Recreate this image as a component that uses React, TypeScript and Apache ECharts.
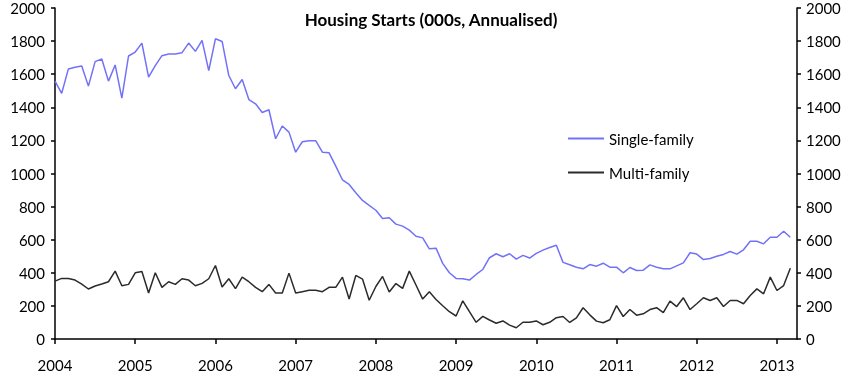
import React, { useEffect, useRef } from "react";
import * as echarts from "echarts";

// Monthly data, Jan 2004 .. Mar 2013 (000s, annualised)
const startYear = 2004;
const yearLabels = [2004, 2005, 2006, 2007, 2008, 2009, 2010, 2011, 2012, 2013];

const singleFamily = [
  1558, 1484, 1632, 1642, 1650, 1528, 1676, 1692, 1558, 1656, 1456, 1710,
  1734, 1788, 1582, 1652, 1712, 1722, 1722, 1730, 1788, 1738, 1804, 1622,
  1814, 1798, 1592, 1512, 1568, 1447, 1421, 1369, 1385, 1210, 1287, 1250,
  1129, 1192, 1198, 1198, 1129, 1125, 1045, 962, 934, 884, 837, 807,
  778, 728, 733, 694, 682, 658, 621, 611, 545, 549, 457, 400,
  366, 364, 356, 390, 420, 491, 515, 497, 515, 483, 505, 489,
  517, 537, 553, 566, 463, 449, 434, 424, 450, 440, 458, 434,
  434, 400, 432, 414, 416, 448, 434, 424, 424, 442, 460, 521,
  513, 480, 486, 500, 511, 529, 513, 539, 591, 591, 575, 615,
  615, 651, 615,
];

const multiFamily = [
  350, 366, 366, 356, 332, 302, 320, 332, 346, 410, 322, 330,
  400, 408, 278, 400, 312, 346, 330, 364, 356, 322, 336, 364,
  444, 314, 364, 304, 374, 346, 312, 286, 330, 278, 278, 398,
  278, 286, 294, 294, 286, 312, 312, 374, 242, 384, 362, 234,
  317, 378, 284, 335, 306, 410, 326, 241, 286, 239, 201, 165,
  139, 231, 165, 101, 137, 115, 95, 109, 84, 68, 101, 101,
  109, 86, 101, 129, 136, 100, 128, 189, 146, 108, 98, 116,
  202, 136, 178, 144, 152, 178, 189, 160, 229, 196, 249, 178,
  213, 249, 233, 249, 196, 233, 233, 213, 263, 303, 273, 374,
  293, 323, 428,
];

const FONT = "Lato";

export default function App() {
  const ref = useRef<HTMLDivElement>(null);

  useEffect(() => {
    const chart = echarts.init(ref.current!, null, { renderer: "svg" });
    const yAxisCommon = {
      type: "value",
      min: 0,
      max: 2000,
      interval: 200,
      splitLine: { show: false },
      axisLine: { show: true, lineStyle: { color: "#000", width: 1.5 } },
      axisTick: { show: true, inside: false, length: 4, lineStyle: { color: "#000", width: 1.5 } },
    };
    chart.setOption({
      animation: false,
      textStyle: { fontFamily: FONT },
      title: {
        text: "Housing Starts (000s, Annualised)",
        left: 426,
        textAlign: "center",
        top: 6,
        textStyle: { fontFamily: FONT, fontWeight: "bold", fontSize: 17, color: "#000" },
      },
      legend: {
        orient: "vertical",
        left: 563,
        top: 126,
        itemWidth: 36,
        itemHeight: 2,
        itemGap: 19,
        icon: "rect",
        textStyle: { fontFamily: FONT, fontSize: 15, color: "#000" },
        data: ["Single-family", "Multi-family"],
      },
      grid: { left: 55, right: 57, top: 8, bottom: 43, containLabel: false },
      xAxis: {
        type: "value",
        min: 0,
        max: 111,
        interval: 12,
        splitLine: { show: false },
        axisLine: { show: true, onZero: false, lineStyle: { color: "#000", width: 1.5 } },
        axisTick: { show: true, length: 5, lineStyle: { color: "#000", width: 1.5 } },
        axisLabel: {
          margin: 18,
          fontSize: 15,
          color: "#000",
          fontFamily: FONT,
          showMaxLabel: false,
          formatter: (v: number) => {
            const y = startYear + Math.round(v / 12);
            return yearLabels.includes(y) ? String(y) : "";
          },
        },
      },
      yAxis: [
        {
          ...yAxisCommon,
          position: "left",
          axisLabel: { margin: 10, fontSize: 15, color: "#000", fontFamily: FONT, formatter: (v: number) => String(v) },
        },
        {
          ...yAxisCommon,
          position: "right",
          axisLabel: { margin: 9, fontSize: 15, color: "#000", fontFamily: FONT, formatter: (v: number) => String(v) },
        },
      ],
      series: [
        {
          name: "Single-family",
          type: "line",
          showSymbol: false,
          symbol: "none",
          itemStyle: { color: "#7272f8" },
          lineStyle: { color: "#7272f8", width: 1.5 },
          data: singleFamily.map((v, i) => [i, v]),
        },
        {
          name: "Multi-family",
          type: "line",
          showSymbol: false,
          symbol: "none",
          itemStyle: { color: "#2b2b2b" },
          lineStyle: { color: "#2b2b2b", width: 1.5 },
          data: multiFamily.map((v, i) => [i, v]),
        },
      ],
    });
    return () => chart.dispose();
  }, []);

  return (
    <div
      ref={ref}
      style={{ position: "fixed", left: 0, top: 0, width: 854, height: 382 }}
    />
  );
}
